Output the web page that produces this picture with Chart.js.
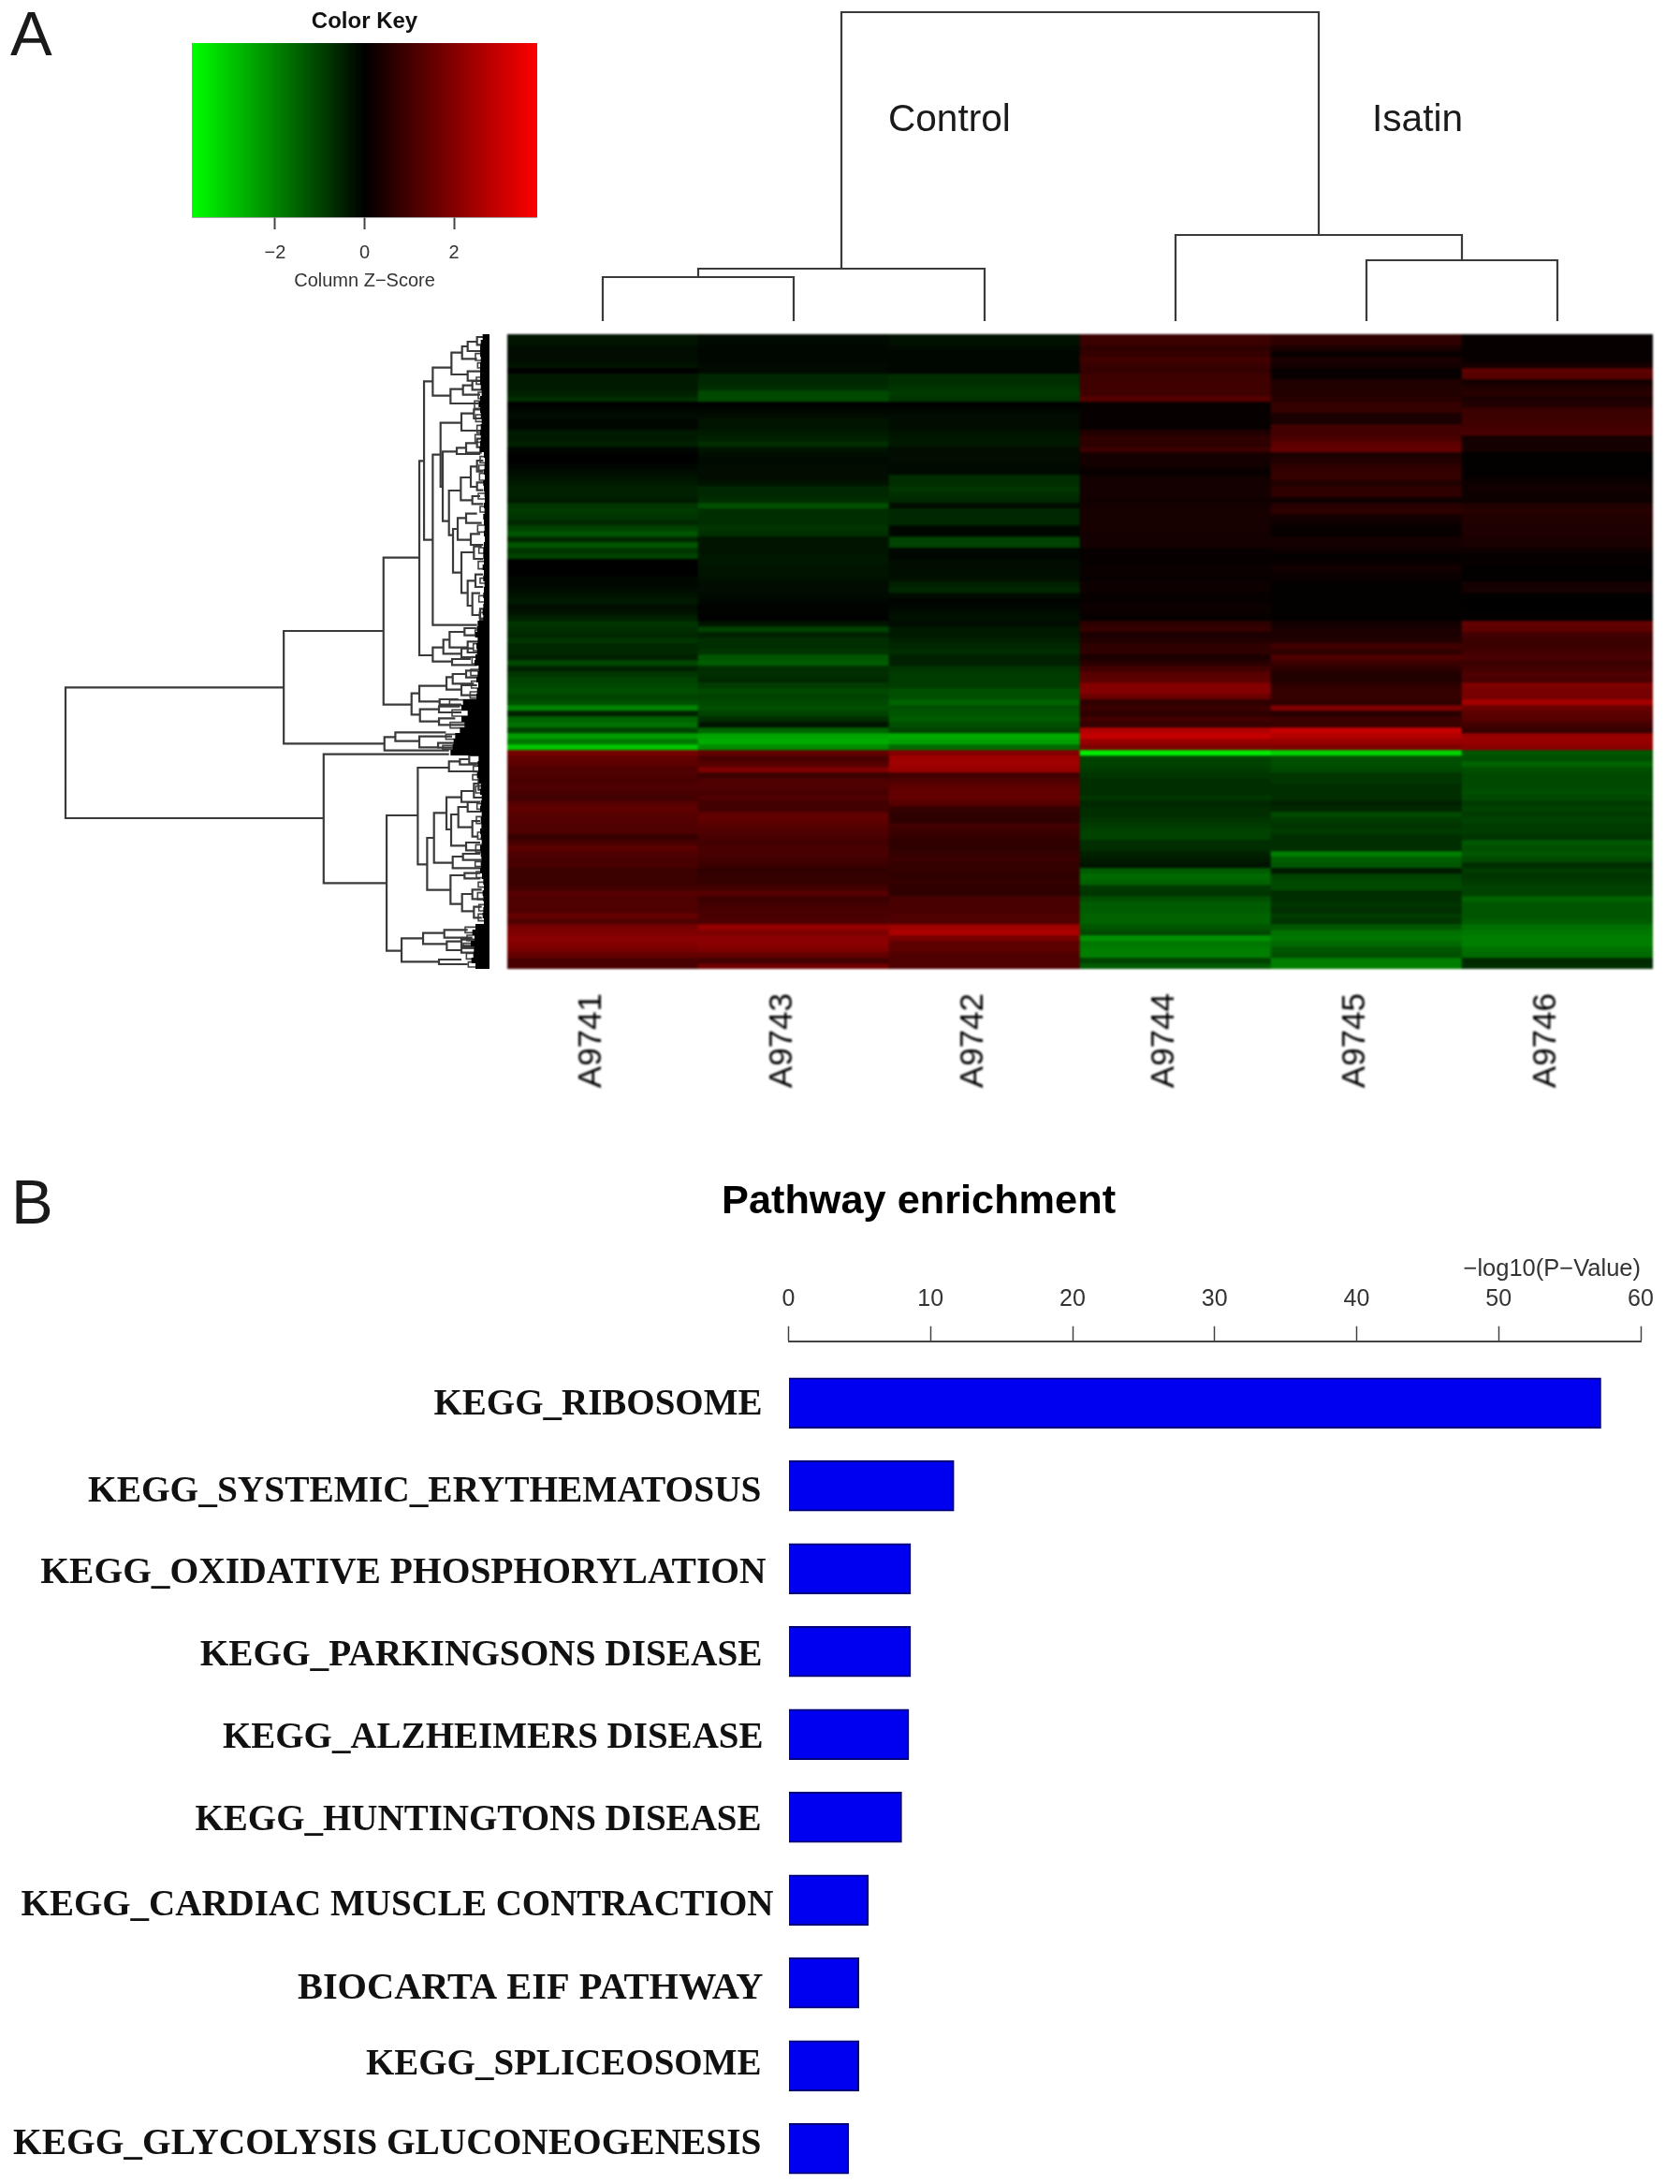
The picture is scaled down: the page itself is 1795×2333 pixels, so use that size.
<!DOCTYPE html>
<html>
<head>
<meta charset="utf-8">
<title>Heatmap and pathway enrichment</title>
<script src="https://cdn.jsdelivr.net/npm/chart.js@4"></script>
<style>
html,body{margin:0;padding:0;background:#fff;}
#page{position:relative;width:1795px;height:2333px;overflow:hidden;background:#fff;}
canvas{position:absolute;display:block;filter:blur(0.6px);}
#heat{filter:blur(0.9px);}
.t{position:absolute;white-space:nowrap;color:#1a1a1a;font-family:"Liberation Sans",sans-serif;line-height:1;filter:blur(0.5px);}
</style>
</head>
<body>
<div id="page">
  <div class="t" style="left:11px;top:2px;font-size:67px;">A</div>
  <div class="t" style="left:12px;top:1250px;font-size:67px;">B</div>
  <div class="t" style="left:949px;top:106px;font-size:40.6px;">Control</div>
  <div class="t" style="left:1466px;top:106px;font-size:40.6px;">Isatin</div>
  <div class="t" style="left:771px;top:1260px;font-size:43.3px;font-weight:bold;color:#000;">Pathway enrichment</div>
  <canvas id="keyChart" style="left:205px;top:0" width="369" height="330"></canvas>
  <canvas id="colTree" style="left:532px;top:3px" width="1244" height="350"></canvas>
  <canvas id="rowTree" style="left:60px;top:347px" width="473" height="698"></canvas>
  <canvas id="heat" style="left:542px;top:357px" width="1224" height="830"></canvas>
  <canvas id="bars" style="left:0;top:1240px" width="1795" height="1093"></canvas>
</div>
<script>
// ---------- Panel A : samples and z-scores per row (top row first) ----------
const samples = ["A9741","A9743","A9742","A9744","A9745","A9746"];
const A9741 = [-.3,-.3,-.2,-.2,-.2,-.3,0,-.4,-.4,-.4,-.5,-.7,0,-.1,-.2,-.1,-.1,-.4,-.4,-.5,-.1,0,0,-.1,-.2,-.3,-.4,-.5,-.5,-.4,-.8,-.9,-.8,-.6,-1.0,-1.3,-.6,-1.3,
 -.8,-1.0,0,0,0,-.1,-.1,-.2,-.3,-.4,-.2,-.3,-.5,-.8,-.7,-.6,-.8,-.6,-.6,-.5,-1.1,-.5,-.8,-1.0,-1.1,-1.2,-1.0,-1.2,-2.0,-.5,-1.5,-1.7,-1.0,-2.4,-1.8,-3.0,
 1.8,1.5,1.4,1.2,1.2,1.1,1.2,1.1,1.0,1.3,1.45,1.3,1.25,1.2,1.2,.8,1.1,1.4,1.2,1.1,1.1,.9,.9,.9,1.0,1.3,1.2,1.2,1.2,1.5,1.2,1.8,1.9,2.1,2.0,1.8,1.5,1.1,1.1];
const A9743 = [-.15,-.15,-.1,-.1,-.1,-.15,-.15,-.6,-.6,-.7,-1.1,-1.1,0,-.1,-.2,-.3,-.3,-.4,-.5,-.7,-.3,-.2,-.15,-.2,-.2,-.2,-.3,-.6,-.6,-.7,-1.2,-.7,-.7,-.7,-.8,-.7,-.3,-.3,
 -.3,-.35,-.35,-.3,-.3,-.25,-.2,-.2,-.15,-.1,-.05,-.05,0,-.3,-1.0,-.5,-.7,-.7,-.8,-1.3,-1.4,-.7,-.7,-.6,-.9,-1.1,-1.0,-1.1,-1.2,-1.0,-.7,-.3,-1.5,-2.5,-2.6,-2.1,
 1.5,1.1,1.3,1.9,.9,1.2,1.2,1.1,1.2,1.0,1.0,1.45,1.45,1.3,1.2,1.1,1.0,1.1,1.1,1.0,.9,.7,.8,.8,1.0,1.3,.9,1.0,1.1,1.1,1.2,2.3,1.9,2.1,2.1,1.9,1.5,1.0,1.7];
const A9742 = [-.25,-.25,-.15,-.1,-.1,-.1,-.1,-.7,-.7,-.8,-.9,-.8,0,-.1,-.2,-.2,-.2,-.3,-.35,-.35,-.2,-.2,-.2,-.15,-.15,-.7,-.7,-.8,-.7,-.6,-.2,-.6,-.6,-.6,-.1,-.1,-1.0,-1.0,
 -.1,-.1,-.2,-.2,-.2,-.25,-.5,-.6,-.2,-.05,-.1,-.2,-.25,-.2,-.4,-.4,-.5,-.6,-.7,-.5,-.5,-.8,-.9,-.9,-.9,-1.2,-1.2,-1.5,-1.2,-1.3,-1.4,-1.2,-1.0,-2.6,-2.4,-1.6,
 2.0,2.4,2.4,2.3,1.0,1.2,1.4,1.5,1.5,1.3,.8,.7,.7,1.0,.9,.8,.7,.7,.8,.9,.8,.8,.7,.8,.7,.7,1.1,1.1,1.1,1.2,1.2,2.4,2.6,1.8,1.4,1.4,1.2,1.2,1.2];
const A9744 = [.9,.9,.7,.8,1.0,.85,.8,.95,.95,.95,.95,1.3,.1,.1,.1,.1,.1,.5,.7,.7,.9,.3,.3,.25,.1,.25,.3,.3,.3,.25,.3,.35,.35,.35,.35,.3,.3,.3,
 .1,.1,.1,.15,.15,.1,.2,.2,.1,.1,.2,.15,.1,.7,.8,.4,.5,.7,.7,.4,.6,1.0,1.3,1.4,2.0,2.0,1.6,.7,.9,.7,1.0,.8,2.7,3.0,2.3,1.9,
 -3.6,-1.0,-1.0,-.9,-.8,-.7,-.7,-.7,-.8,-.6,-.7,-.7,-.8,-.9,-1.0,-1.0,-.7,-.7,-.5,-.4,-.3,-1.4,-1.6,-1.5,-.9,-.8,-1.2,-1.4,-1.4,-1.5,-1.5,-1.3,-1.1,-2.2,-1.8,-1.9,-1.9,-1.0,-1.4];
const A9745 = [.7,.7,.4,.1,.4,.3,.1,.1,.5,.5,.5,.6,.8,.8,.4,.4,1.0,1.0,1.1,1.4,1.5,.4,.5,.7,.8,.8,.5,.7,.7,.2,.6,.7,.3,.2,.1,.1,.3,.3,
 .2,.05,.1,.3,.2,.15,.05,.05,.05,.05,.05,.05,.05,.3,.4,.4,.5,1.0,.7,1.2,.9,.7,.5,.5,.7,.8,.8,.7,1.9,.6,.9,.9,3.0,2.7,2.3,1.9,
 -3.2,-1.2,-1.2,-1.1,-.8,-.8,-.7,-.7,-.7,-.5,-.6,-1.1,-.9,-.8,-.9,-.7,-.7,-.7,-1.9,-1.4,-1.3,-.4,-1.0,-1.1,-1.1,-.7,-.7,-.8,-.7,-.9,-.8,-1.3,-1.7,-1.8,-1.6,-1.3,-1.2,-1.9,-1.9];
const A9746 = [.1,.1,.1,.1,.1,.3,1.4,1.3,.3,.5,.6,.4,.5,.9,.9,.95,1.0,1.1,.3,.3,.3,.05,.05,.05,.05,.1,.2,.25,.2,.2,.5,.6,.5,.5,.45,.45,.4,.4,
 .2,.1,.1,.05,.05,.05,.3,.35,.05,.02,.02,.03,.05,1.5,1.4,1.0,.9,.9,1.0,1.1,.9,1.0,1.2,1.1,1.9,1.8,1.8,2.5,1.6,1.4,1.3,1.0,.8,2.3,2.3,2.1,
 -1.3,-1.2,-1.5,-1.2,-1.1,-1.1,-1.1,-1.2,-1.1,-.9,-1.0,-.9,-1.0,-.9,-.9,-.8,-1.3,-1.2,-1.3,-1.1,-.7,-.9,-.8,-.9,-1.0,-1.0,-1.5,-1.3,-1.3,-1.3,-1.4,-1.7,-1.8,-1.9,-1.9,-1.7,-1.6,-.6,-.7];
const zColumns = [A9741,A9743,A9742,A9744,A9745,A9746];

// colour key
const keyRange = [-3.86, 3.86];
const keyTicks = [-2, 0, 2];

// column dendrogram merges: [height, pos1, childHeight1, pos2, childHeight2]
const colMerges = [
 [47,0.5,0,1.5,0],[56,1.0,47,2.5,0],[65,4.5,0,5.5,0],[92,3.5,0,5.0,65],[330,1.75,56,4.25,92]
];
// row dendrogram merges: [height, row1, childHeight1, row2, childHeight2]
const rowMerges = [
 [1360,1132,660,1551,532],[660,951,340,1312,337],[340,716,225,1187,250],[225,406,210,1029,182],[210,151,182,659,182],
 [182,107,122,197,125],[122,59,88,129,70],[88,39,70,79,40],[70,24,40,54,30],[40,9,15,34,15],[70,119,25,149,20],
 [125,176,85,222,35],[85,164,55,194,30],[55,150,20,178,20],
 [182,386,157,932,40],[157,284,90,489,150],[90,254,50,309,15],[50,241,25,270,20],
 [150,376,105,599,130],[105,364,75,384,30],[75,349,40,380,25],[40,335,15,362,15],
 [130,501,92,644,117],[92,459,60,532,55],[60,424,40,489,40],[40,405,20,440,20],[40,475,15,500,20],[55,519,30,544,20],
 [117,624,102,764,90],[102,589,75,659,60],[75,575,40,605,25],[60,640,30,675,20],
 [90,699,50,829,70],[70,790,45,870,55],[55,830,30,900,30],[50,680,25,720,20],[45,770,20,810,20],[30,880,15,915,15],
 [182,1004,148,1049,120],[148,979,128,1024,90],[128,954,80,1004,70],[80,942,40,965,30],[90,1007,50,1035,30],[70,985,35,1020,30],[120,1041,60,1060,40],
 [250,1151,225,1219,223],[225,1127,138,1177,160],[138,1099,118,1139,90],[118,1089,75,1120,50],[75,1078,35,1100,25],[90,1125,40,1157,40],[160,1170,100,1187,90],
 [223,1202,162,1241,162],[162,1193,95,1212,90],[162,1231,110,1252,60],
 [337,1291,302,1334,130],[302,1276,140,1304,225],[225,1289,120,1324,165],[165,1310,110,1325,100],
 [532,1346,130,1759,330],[330,1542,230,1976,282],[230,1389,130,1699,200],[130,1369,95,1401,30],[95,1362,65,1379,40],[65,1350,30,1375,30],
 [200,1614,178,1781,125],[178,1534,138,1694,118],[138,1484,90,1587,123],[90,1464,50,1499,30],[50,1440,35,1485,20],[35,1420,20,1460,15],
 [123,1539,100,1639,75],[100,1515,70,1580,55],[70,1500,35,1530,25],[55,1560,30,1610,35],[75,1629,30,1654,15],
 [118,1674,85,1711,30],[85,1665,30,1685,25],[125,1734,80,1826,88],[80,1727,30,1744,30],[88,1794,55,1849,50],[55,1780,25,1810,20],[50,1835,25,1870,25],
 [282,1936,213,2011,162],[213,1919,145,1954,137],[145,1909,70,1934,55],[137,1946,90,1974,90],[90,1940,45,1960,40],[90,1966,50,1982,35],[162,2004,90,2019,70]
];
// small terminal branches close to the leaves
const rowTwigs = [
 [45,62,10,84,10],[38,92,10,108,10],[42,138,10,160,10],[36,186,10,206,10],[48,214,10,238,10],[44,258,10,280,10],[40,292,10,316,10],
 [46,322,10,346,10],[30,392,10,412,10],[34,420,10,436,10],[32,446,10,468,10],[36,510,10,528,10],[30,552,10,570,10],[38,612,10,634,10],
 [34,684,10,702,10],[36,728,10,752,10],[30,782,10,798,10],[34,838,10,858,10],[32,892,10,910,10],[46,948,10,968,10],[52,992,10,1014,10],
 [56,1034,10,1056,10],[60,1074,10,1094,10],[58,1112,10,1134,10],[62,1146,10,1166,10],[128,1172,10,1190,10],[120,1204,10,1224,10],[126,1244,10,1262,10],
 [140,1282,10,1298,10],[150,1318,10,1330,10],[52,1384,10,1402,10],[54,1412,10,1428,10],[44,1448,10,1470,10],[40,1504,10,1522,10],[42,1546,10,1568,10],
 [38,1596,10,1618,10],[44,1636,10,1660,10],[46,1690,10,1706,10],[42,1722,10,1742,10],[36,1756,10,1772,10],[38,1790,10,1812,10],[34,1828,10,1848,10],[36,1858,10,1880,10],
 [78,1900,10,1918,10],[72,1926,10,1944,10],[84,1952,10,1968,10],[74,1984,10,2002,10],[68,2012,10,2028,10]
];
// depth of the dense leaf fringe, one per heatmap row
const rowFringe = [22,28,30,30,28,30,30,30,
 30,28,25,30,35,30,28,25,28,30,28,30,32,
 18,15,16,18,15,20,18,16,15,18,16,20,18,16,18,15,18,20,
 20,18,22,18,20,16,18,20,18,20,22,20,38,
 40,45,38,42,40,45,48,35,38,42,36,40,42,
 85,90,70,90,80,95,110,115,118,125,
 35,38,36,40,34,
 28,30,25,28,30,25,28,26,30,28,25,30,28,26,28,30,24,
 20,18,22,20,18,20,22,18,
 45,55,48,60,50,52,58,45];

// ---------- Panel B ----------
const pathways = ["KEGG_RIBOSOME","KEGG_SYSTEMIC_ERYTHEMATOSUS","KEGG_OXIDATIVE PHOSPHORYLATION","KEGG_PARKINGSONS DISEASE","KEGG_ALZHEIMERS DISEASE","KEGG_HUNTINGTONS DISEASE","KEGG_CARDIAC MUSCLE CONTRACTION","BIOCARTA EIF PATHWAY","KEGG_SPLICEOSOME","KEGG_GLYCOLYSIS GLUCONEOGENESIS"];
const logP = [57.2,11.65,8.6,8.6,8.47,7.97,5.63,4.96,4.96,4.24];
const pTicks = [0,10,20,30,40,50,60];

// ---------- helpers ----------
Chart.defaults.animation = false;
Chart.defaults.responsive = false;
Chart.defaults.devicePixelRatio = 1;
Chart.defaults.plugins.legend.display = false;
Chart.defaults.plugins.tooltip.enabled = false;
const SANS = '"Liberation Sans", sans-serif';
const SERIF = '"Liberation Serif", serif';

function zColor(z){
  const m = Math.min(255, Math.round(Math.abs(z) / keyRange[1] * 255));
  return z >= 0 ? `rgb(${m},0,0)` : `rgb(0,${m},0)`;
}
const rows = A9741.length;
const heatRows = A9741.map((_, r) => ({
  data: samples.map(() => 1),
  backgroundColor: zColumns.map(c => zColor(c[r])),
  borderWidth: 0, barPercentage: 1, categoryPercentage: 1, stack: 's'
}));

new Chart(document.getElementById('heat'), {
  type: 'bar',
  data: { labels: samples, datasets: heatRows },
  options: {
    layout: { padding: 0 },
    scales: {
      x: { stacked: true, border: { display: false }, grid: { display: false, drawTicks: false },
           afterFit: s => { s.height = 152; },
           ticks: { minRotation: 90, maxRotation: 90, padding: 26, labelOffset: -12, color: '#000', font: { family: SANS, size: 35 } } },
      y: { display: false, stacked: true, reverse: true, min: 0, max: rows }
    }
  }
});

function treeLines(merges, toXY){
  const pts = [];
  merges.forEach(([h, p1, h1, p2, h2]) => {
    [[h1,p1],[h,p1],[h,p2],[h2,p2]].forEach(([a,b]) => pts.push(toXY(a,b)));
    pts.push({x: NaN, y: NaN});
  });
  return pts;
}

new Chart(document.getElementById('colTree'), {
  type: 'scatter',
  data: { datasets: [{ data: treeLines(colMerges, (h,p) => ({x:p, y:h})), showLine: true, pointRadius: 0, borderColor: '#3a3a3a', borderWidth: 2.2, spanGaps: false, clip: false }] },
  options: {
    layout: { padding: 10 },
    scales: { x: { display: false, min: 0, max: samples.length }, y: { display: false, min: 0, max: 330 } }
  }
});

const fringePts = [];
rowFringe.forEach((d, i) => { fringePts.push({x:0, y:(i+0.5)*18}, {x:d, y:(i+0.5)*18}, {x:NaN, y:NaN}); });
new Chart(document.getElementById('rowTree'), {
  type: 'scatter',
  data: { datasets: [
    { data: fringePts, showLine: true, pointRadius: 0, borderColor: '#000', borderWidth: 6.2, borderCapStyle: 'butt', spanGaps: false, clip: false },
    { data: treeLines(rowMerges, (h,p) => ({x:h, y:p})), showLine: true, pointRadius: 0, borderColor: '#3a3a3a', borderWidth: 2.2, spanGaps: false, clip: false },
    { data: treeLines(rowTwigs, (h,p) => ({x:h, y:p})), showLine: true, pointRadius: 0, borderColor: '#444', borderWidth: 1.6, spanGaps: false, clip: false }
  ] },
  options: {
    layout: { padding: 10 },
    scales: { x: { display: false, reverse: true, min: 0, max: 1360 }, y: { display: false, reverse: true, min: 0, max: 2034 } }
  }
});

new Chart(document.getElementById('keyChart'), {
  type: 'bar',
  data: { labels: ['key'], datasets: [{
    data: [keyRange], barPercentage: 1, categoryPercentage: 1, borderWidth: 0,
    backgroundColor: ctx => {
      const a = ctx.chart.chartArea;
      if (!a) return '#000';
      const g = ctx.chart.ctx.createLinearGradient(a.left, 0, a.right, 0);
      g.addColorStop(0, '#00ff00'); g.addColorStop(0.5, '#000000'); g.addColorStop(1, '#ff0000');
      return g;
    }
  }] },
  options: {
    indexAxis: 'y',
    layout: { padding: 0 },
    plugins: { title: { display: true, text: 'Color Key', color: '#111', font: { family: SANS, size: 24, weight: 'bold' }, padding: { top: 8.6, bottom: 8.6 } } },
    scales: {
      y: { display: false },
      x: { min: keyRange[0], max: keyRange[1],
           afterBuildTicks: s => { s.ticks = keyTicks.map(v => ({ value: v })); },
           afterFit: s => { s.height = 98; },
           border: { display: true, color: '#555', width: 1.5 },
           grid: { drawOnChartArea: false, tickLength: 13, tickColor: '#444', tickWidth: 2 },
           ticks: { padding: 13, color: '#333', font: { family: SANS, size: 20 }, callback: v => String(v).replace('-', '\u2212') },
           title: { display: true, text: 'Column Z\u2212Score', color: '#333', font: { family: SANS, size: 20 }, padding: { top: 8, bottom: 18 } } }
    }
  }
});

const barLabelRows = [1.03, 2.07, 3.06, 4.05, 5.05, 6.04, 7.07, 8.07, 8.99, 9.95];
const barLabelShift = [0, -1, 4, 0, 1, -1, 12, 1, -1, -1];
const barLabelSize = [39, 39.4, 39.5, 39.3, 39, 39, 39, 40.4, 39, 39.4];
const shiftLabels = {
  id: 'shiftLabels',
  beforeDraw(chart) {
    const s = chart.scales.y;
    s._labelItems = s._computeLabelItems(chart.chartArea);
    s._labelItems.forEach((it, i) => { it.options.translation[0] += barLabelShift[i]; });
  }
};
new Chart(document.getElementById('bars'), {
  type: 'bar',
  plugins: [shiftLabels],
  data: { datasets: [{
    data: logP.map((v, i) => ({ x: v, y: i + 1 })),
    backgroundColor: '#0000f0', borderColor: '#00007a', borderWidth: 2, barThickness: 54
  }] },
  options: {
    indexAxis: 'y',
    layout: { padding: { right: 42, left: 0, top: 0, bottom: 0 } },
    scales: {
      x: { type: 'linear', position: 'top', min: 0, max: 60,
           afterBuildTicks: s => { s.ticks = pTicks.map(v => ({ value: v })); },
           afterFit: s => { s.height = 192.7; },
           border: { display: true, color: '#444', width: 2 },
           grid: { drawOnChartArea: false, tickLength: 16, tickColor: '#444', tickWidth: 1.5 },
           ticks: { padding: 14, maxRotation: 0, color: '#333', font: { family: SANS, size: 25 } },
           title: { display: true, align: 'end', text: '\u2212log10(P\u2212Value)', color: '#333', font: { family: SANS, size: 25.5 }, padding: { top: 101, bottom: 0 } } },
      y: { type: 'linear', offset: false, reverse: true, min: 0.254, max: 10.427,
           afterBuildTicks: s => { s.ticks = barLabelRows.map(v => ({ value: v })); },
           afterFit: s => { s.width = 842.5; s.paddingTop = 0; s.paddingBottom = 0; },
           border: { display: false }, grid: { display: false, drawTicks: false },
           ticks: { padding: 28, color: '#111', font: ctx => ({ family: SERIF, size: barLabelSize[ctx.index] || 39, weight: 'bold' }),
                    callback: (v, i) => pathways[i] } }
    }
  }
});
</script>
</body>
</html>
